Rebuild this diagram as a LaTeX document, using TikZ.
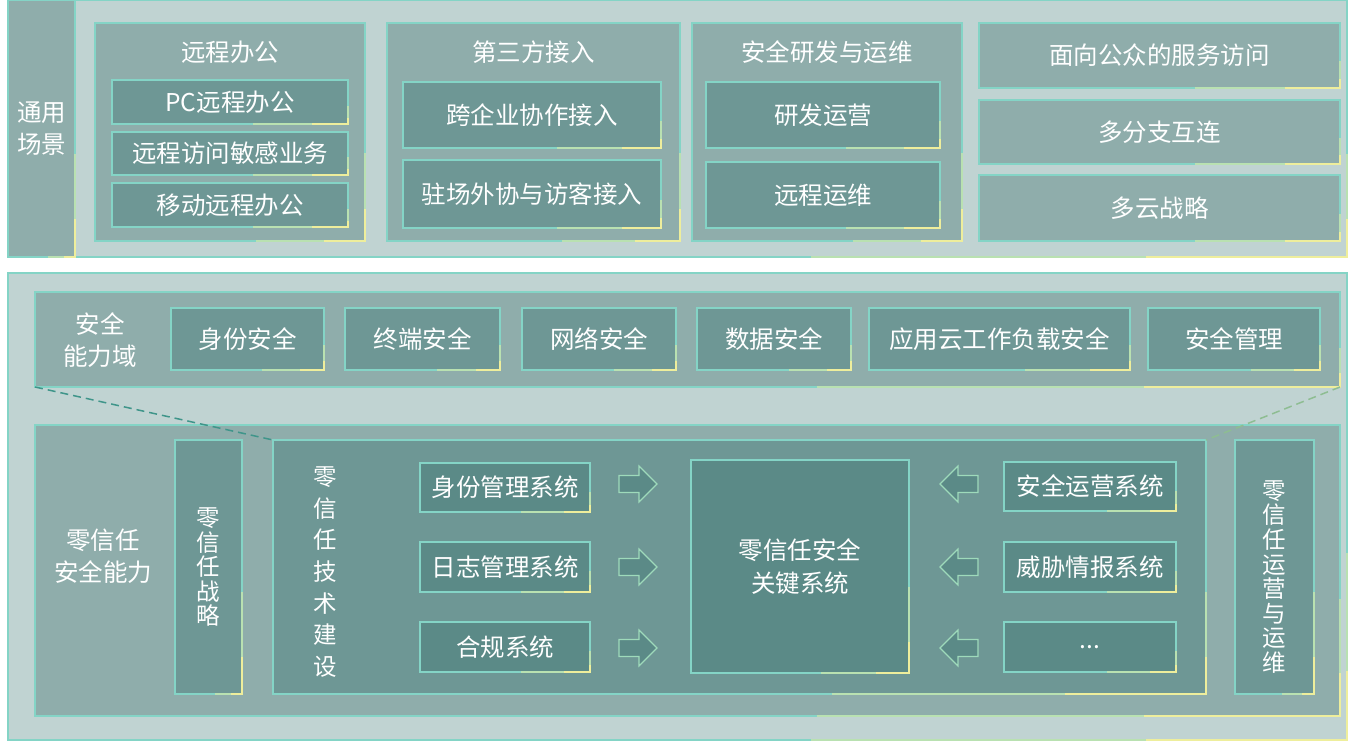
\documentclass[tikz,border=0pt]{standalone}
\usepackage{fontspec}
\setmainfont{Noto Sans CJK SC}
\usetikzlibrary{positioning,calc}

\definecolor{paneBg}{HTML}{C0D3D2}
\definecolor{groupFill}{HTML}{8FADAB}
\definecolor{subFill}{HTML}{6E9795}
\definecolor{sysFill}{HTML}{5B8A87}
\definecolor{edgeTeal}{HTML}{84D4C6}
\definecolor{edgeYellow}{HTML}{EEEE9C}
\definecolor{dashTeal}{HTML}{3F958A}

\tikzset{
  wh/.style 2 args={minimum width=#1pt, minimum height=#2pt},
  yedge/.style={draw=#1, line width=1.3pt, line cap=rect},
  box/.style={draw=edgeTeal, line width=1.3pt, inner sep=0pt, outer sep=0pt,
    anchor=north west, text=white, align=center,
    font=\fontsize{24.5}{32}\selectfont,
    append after command={\pgfextra{\let\ynode\tikzlastnode}
      ($(\ynode.south east)!0.4!(\ynode.south west)$) edge[yedge=edgeYellow!50!edgeTeal] ($(\ynode.south east)!0.15!(\ynode.south west)$)
      ($(\ynode.south east)!0.15!(\ynode.south west)$) edge[yedge=edgeYellow] (\ynode.south east)
      (\ynode.south east) edge[yedge=edgeYellow] ($(\ynode.south east)!0.15!(\ynode.north east)$)
      ($(\ynode.south east)!0.15!(\ynode.north east)$) edge[yedge=edgeYellow!50!edgeTeal] ($(\ynode.south east)!0.4!(\ynode.north east)$)}},
  panel/.style={box, fill=paneBg},
  group/.style={box, fill=groupFill},
  sub/.style={box, fill=subFill},
  sys/.style={box, fill=sysFill},
  lbl/.style={text=white, align=center, font=\fontsize{24.5}{32}\selectfont},
  vtext/.style={text=white, align=center, font=\fontsize{23.5}{#1}\selectfont},
  dashline/.style={line width=1.5pt, dash pattern=on 8pt off 5pt},
  arrowbox/.style={fill=sysFill, draw=edgeTeal!75!edgeYellow, line width=1.2pt, line join=miter},
  pics/blockarrow/.style={code={
    \draw[arrowbox] (0,-8.5) -- (20,-8.5) -- (20,-18) -- (38,0) -- (20,18) -- (20,8.5) -- (0,8.5) -- cycle;}}
}

\begin{document}
\begin{tikzpicture}[x=1pt, y=-1pt]
% Page size
\useasboundingbox[fill=white] (0,0) rectangle (1357,743);

% Upper panel: scenarios
\node[panel, wh={1339}{257}] (top) at (8,0) {};
\node[group, wh={67}{257}] (scene) at (8,0) {通用\\场景};

\node[group, wh={270}{218}] (remote) at (95,23) {};
\node[lbl] (remotetitle) at ([yshift=-29pt]remote.north) {远程办公};
\node[sub, wh={236}{44}] (remotepc) at (112,80) {PC远程办公};
\node[sub, wh={236}{43}] (remotesens) at (112,132) {远程访问敏感业务};
\node[sub, wh={236}{44}] (remotemob) at (112,183) {移动远程办公};

\node[group, wh={293}{218}] (third) at (387,23) {};
\node[lbl] (thirdtitle) at ([yshift=-29pt]third.north) {第三方接入};
\node[sub, wh={258}{66}] (thirdcorp) at (403,82) {跨企业协作接入};
\node[sub, wh={258}{68}] (thirdvisit) at (403,160) {驻场外协与访客接入};

\node[group, wh={270}{218}] (devops) at (692,23) {};
\node[lbl] (devopstitle) at ([yshift=-29pt]devops.north) {安全研发与运维};
\node[sub, wh={234}{66}] (devopsdev) at (706,82) {研发运营};
\node[sub, wh={234}{66}] (devopsops) at (706,162) {远程运维};

\node[group, wh={361}{65}] (public) at (979,23) {面向公众的服务访问};
\node[group, wh={361}{64}] (branch) at (979,100) {多分支互连};
\node[group, wh={361}{66}] (cloud) at (979,175) {多云战略};

% Lower panel: capabilities
\node[panel, wh={1339}{467}] (bottom) at (8,273) {};
\node[group, wh={1305}{95}] (domain) at (35,292) {};
\node[lbl] (domaintitle) at (100,340) {安全\\能力域};
\node[sub, wh={153}{62}] (idsec) at (171,308) {身份安全};
\node[sub, wh={155}{62}] (endsec) at (345,308) {终端安全};
\node[sub, wh={154}{62}] (netsec) at (522,308) {网络安全};
\node[sub, wh={154}{62}] (datasec) at (697,308) {数据安全};
\node[sub, wh={261}{62}] (appsec) at (869,308) {应用云工作负载安全};
\node[sub, wh={172}{62}] (secmgmt) at (1148,308) {安全管理};

\node[group, wh={1305}{291}] (lower) at (35,425) {};
\node[lbl] (lowertitle) at (103,556) {零信任\\安全能力};
\node[sub, wh={67}{254}, vtext=24.5] (strategy) at (175,440) {零\\信\\任\\战\\略};
\node[sub, wh={933}{254}] (tech) at (273,440) {};
\node[vtext=31.6] (techtitle) at (325,572) {零\\信\\任\\技\\术\\建\\设};
\node[sub, wh={79}{254}] (ops) at (1235,440) {};
\node[vtext=24.6] (opstitle) at (1274,577) {零\\信\\任\\运\\营\\与\\运\\维};

% Systems feeding the key system
\node[sys, wh={170}{49}] (idmgmt) at (420,463) {身份管理系统};
\node[sys, wh={170}{50}] (logmgmt) at (420,542) {日志管理系统};
\node[sys, wh={170}{50}] (comply) at (420,622) {合规系统};
\node[sys, wh={218}{213}, font=\fontsize{24.5}{33}\selectfont] (key) at (691,460) {零信任安全\\关键系统};
\node[sys, wh={172}{49}] (secops) at (1004,462) {安全运营系统};
\node[sys, wh={172}{50}] (threat) at (1004,542) {威胁情报系统};
\node[sys, wh={172}{50}] (more) at (1004,622) {...};

\foreach \y in {484,567,648} {
  \pic at (619,\y) {blockarrow};
  \pic[xscale=-1] at (978,\y) {blockarrow};
}

% Zoom lines from the domain row
\draw[dashline, dashTeal] (domain.south west) -- (tech.north west);
\draw[dashline, edgeYellow!45!dashTeal] (domain.south east) -- (tech.north east);
\end{tikzpicture}
\end{document}
